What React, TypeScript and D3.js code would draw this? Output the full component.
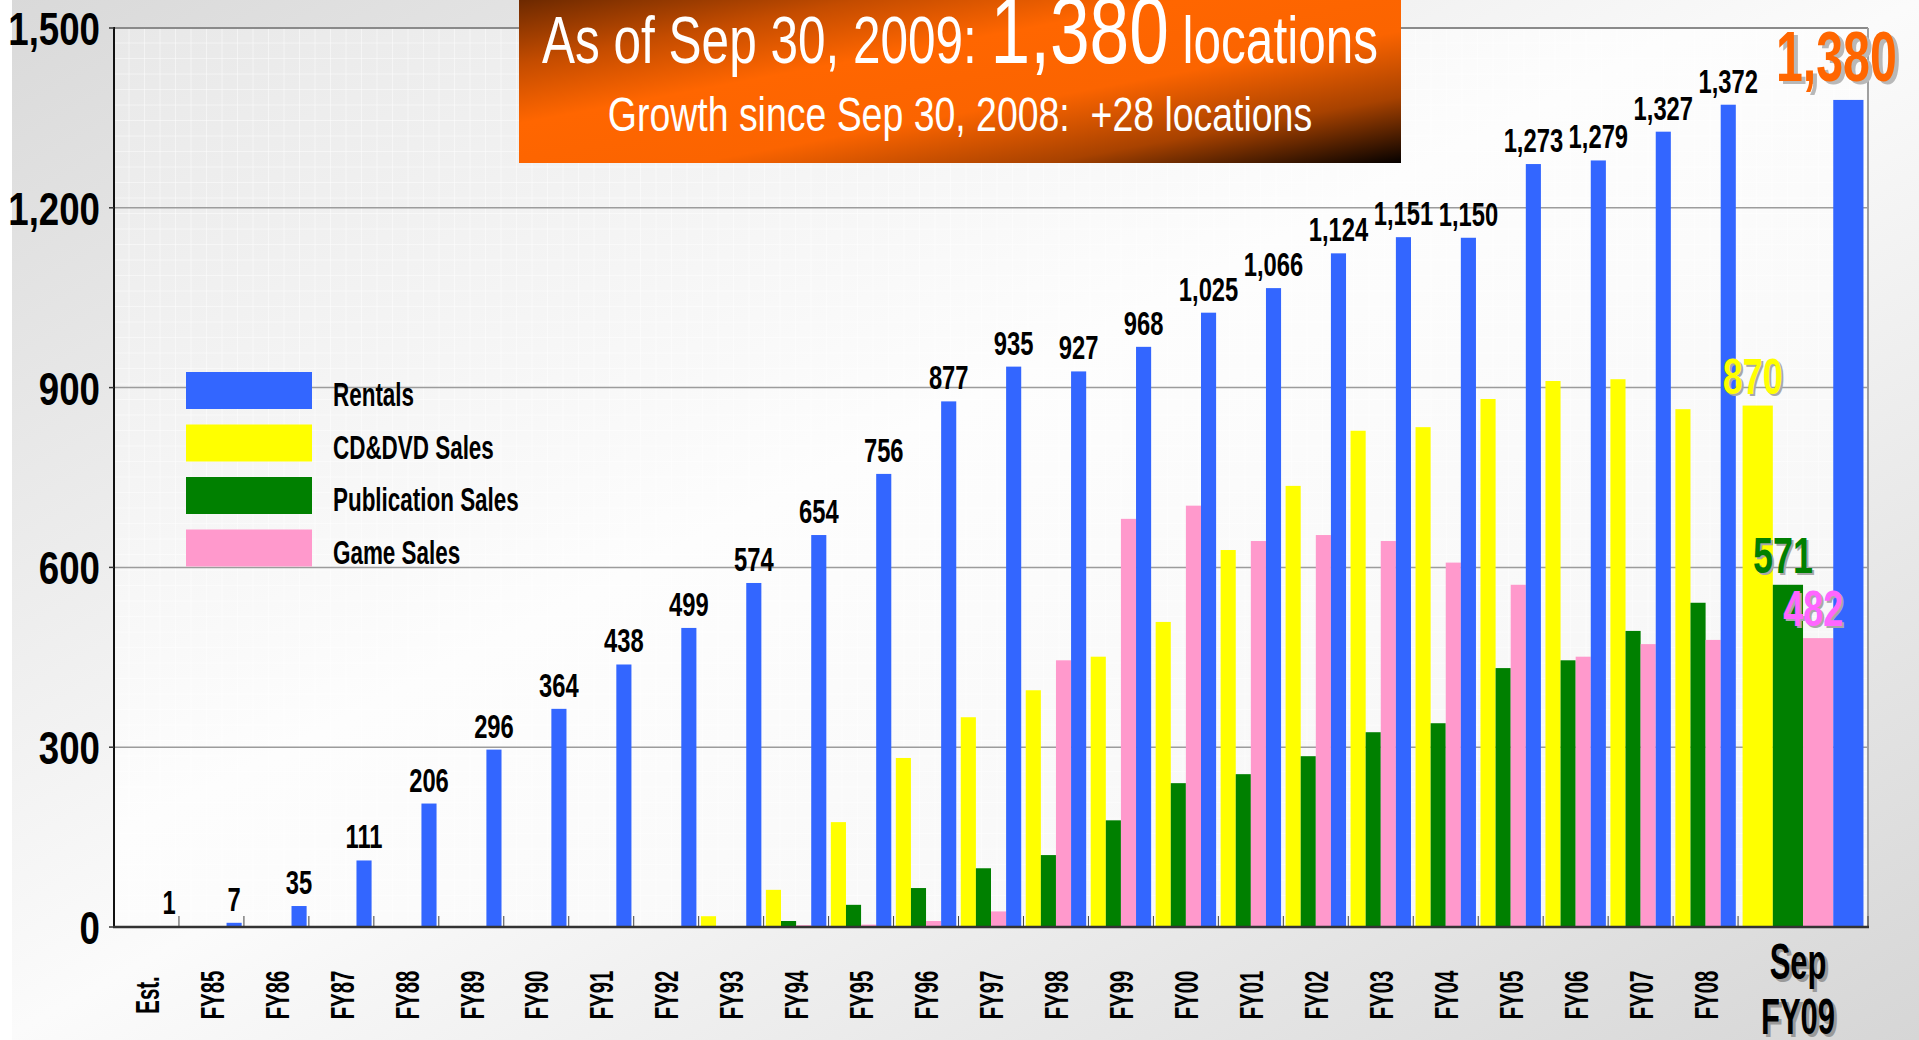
import * as d3 from "d3";

// Store count per fiscal year end, by business line
const categories = [
  "Est.", "FY85", "FY86", "FY87", "FY88", "FY89", "FY90", "FY91", "FY92",
  "FY93", "FY94", "FY95", "FY96", "FY97", "FY98", "FY99", "FY00", "FY01",
  "FY02", "FY03", "FY04", "FY05", "FY06", "FY07", "FY08", "Sep FY09",
];
const rentals = [
  1, 7, 35, 111, 206, 296, 364, 438, 499, 574, 654, 756, 877, 935, 927, 968,
  1025, 1066, 1124, 1151, 1150, 1273, 1279, 1327, 1372, 1380,
];
const cdDvdSales = [
  0, 0, 0, 0, 0, 0, 0, 0, 0, 18, 62, 175, 282, 350, 395, 451, 509, 629, 736,
  828, 834, 881, 911, 914, 864, 870,
];
const publicationSales = [
  0, 0, 0, 0, 0, 0, 0, 0, 0, 0, 10, 37, 65, 98, 120, 178, 240, 255, 285, 325,
  340, 432, 445, 494, 541, 571,
];
const gameSales = [
  0, 0, 0, 0, 0, 0, 0, 0, 0, 0, 3, 4, 10, 26, 445, 681, 703, 644, 654, 644,
  608, 571, 451, 472, 479, 482,
];
const yTicks = [0, 300, 600, 900, 1200, 1500];
const seriesNames = ["Rentals", "CD&DVD Sales", "Publication Sales", "Game Sales"];
const seriesColors = ["#3366ff", "#ffff00", "#008000", "#ff99cc"];
// colours of the value labels on the latest (Sep FY09) group
const latestLabelColors = ["#ff6600", "#ffff00", "#008000", "#ff66ff"];
// bars inside a group, left to right: CD&DVD, Publication, Game, Rentals
const barOrder = [1, 2, 3, 0];

const headline = "As of Sep 30, 2009: ";
const headlineTail = " locations";
const growthLine = "Growth since Sep 30, 2008:  +28 locations";

const W = 1919;
const H = 1040;
const left = 114;
const right = 1868;
const top = 28;
const bottom = 927;
const FONT = "'Liberation Sans', Arial, Helvetica, sans-serif";
const fmt = d3.format(",");

interface TxtProps {
  x: number;
  y: number;
  sx?: number;
  size: number;
  bold?: boolean;
  fill?: string;
  anchor?: string;
  rot?: number;
  dy?: string;
  shadow?: string;
  shadowOffset?: [number, number];
  children: any;
}

// condensed text: the original uses a narrow face, so squeeze horizontally
function Txt({
  x, y, sx = 1, size, bold = true, fill = "#000", anchor = "middle", rot = 0,
  dy, shadow, shadowOffset = [3, 3], children,
}: TxtProps) {
  const common = {
    fontFamily: FONT,
    fontSize: size,
    fontWeight: bold ? "bold" : "normal",
    textAnchor: anchor as any,
    dy,
    style: { whiteSpace: "pre" as const },
  };
  return (
    <g>
      {shadow && (
        <text
          {...common}
          fill={shadow}
          transform={`translate(${x + shadowOffset[0]},${y + shadowOffset[1]}) rotate(${rot}) scale(${sx},1)`}
        >
          {children}
        </text>
      )}
      <text {...common} fill={fill} transform={`translate(${x},${y}) rotate(${rot}) scale(${sx},1)`}>
        {children}
      </text>
    </g>
  );
}

export default function App() {
  const series = [rentals, cdDvdSales, publicationSales, gameSales];
  const last = categories.length - 1;

  const y = d3.scaleLinear().domain([0, 1500]).range([bottom, top]);

  // the latest group is twice as wide as the yearly ones
  const units = categories.map((_, i) => (i === last ? 2 : 1));
  const starts = [0, ...d3.cumsum(units)];
  const x = d3.scaleLinear().domain([0, d3.sum(units)]).range([left, right]);

  const groups = categories.map((c, i) =>
    d3
      .scaleBand<number>()
      .domain(barOrder)
      .range([x(starts[i]), x(starts[i] + units[i])])
      .paddingInner(0)
      .paddingOuter(0.15)
  );

  return (
    <svg
      width={W}
      height={H}
      style={{ position: "absolute", left: 0, top: 0, display: "block" }}
    >
      <defs>
        <linearGradient id="bg" x1="0" y1="0" x2="1" y2="1">
          <stop offset="0" stopColor="#d9d9d9" />
          <stop offset="0.5" stopColor="#fbfbfb" />
          <stop offset="1" stopColor="#d6d6d6" />
        </linearGradient>
        <linearGradient id="plotbg" x1="0" y1="0" x2="1" y2="1">
          <stop offset="0" stopColor="#e8e8e8" />
          <stop offset="0.45" stopColor="#fdfdfd" />
          <stop offset="1" stopColor="#f4f4f4" />
        </linearGradient>
        <pattern id="grid" width="15.5" height="15.5" patternUnits="userSpaceOnUse" x={left} y={top}>
          <path d="M15.5 0 V15.5 M0 15.5 H15.5" stroke="#ffffff" strokeWidth="1" fill="none" />
        </pattern>
        <linearGradient id="banner" x1="0" y1="0" x2="1" y2="1">
          <stop offset="0" stopColor="#6a2800" />
          <stop offset="0.2" stopColor="#c44c00" />
          <stop offset="0.38" stopColor="#ff6600" />
          <stop offset="0.6" stopColor="#fb6400" />
          <stop offset="0.8" stopColor="#a84200" />
          <stop offset="1" stopColor="#050100" />
        </linearGradient>
      </defs>

      {/* page background */}
      <rect x={0} y={0} width={W} height={H} fill="url(#bg)" />
      <rect x={0} y={0} width={12} height={H} fill="#ffffff" />

      {/* plot background */}
      <rect x={left} y={top} width={right - left} height={bottom - top} fill="url(#plotbg)" />
      <rect x={left} y={top} width={right - left} height={bottom - top} fill="url(#grid)" opacity={0.9} />

      {/* gridlines */}
      {yTicks.filter((t) => t > 0).map((t) => (
        <line key={t} x1={left} x2={right} y1={y(t)} y2={y(t)} stroke={t === 1500 ? "#8a8a8a" : "#9c9c9c"} strokeWidth={t === 1500 ? 2 : 1.5} />
      ))}
      <line x1={right} x2={right} y1={top} y2={bottom} stroke="#a0a0a0" strokeWidth={2} />

      {/* category ticks on the x axis */}
      {starts.map((s, i) => (
        <line key={i} x1={x(s)} x2={x(s)} y1={bottom - 11} y2={bottom} stroke="#444" strokeWidth={1} />
      ))}

      {/* bars */}
      {categories.map((c, i) =>
        barOrder.map((k) => {
          const v = series[k][i];
          if (!v) return null;
          return (
            <rect
              key={`${c}-${k}`}
              x={groups[i](k)}
              y={y(v)}
              width={groups[i].bandwidth()}
              height={y(0) - y(v)}
              fill={seriesColors[k]}
            />
          );
        })
      )}

      {/* axes */}
      <line x1={left} x2={left} y1={top - 1} y2={bottom} stroke="#111" strokeWidth={2} />
      <line x1={left - 1} x2={right + 1} y1={bottom} y2={bottom} stroke="#333" strokeWidth={2.5} />
      {yTicks.map((t) => (
        <line key={t} x1={left - 5} x2={left} y1={y(t)} y2={y(t)} stroke="#333" strokeWidth={1.5} />
      ))}

      {/* y tick labels */}
      {yTicks.map((t) => (
        <Txt key={t} x={100} y={y(t) + 17} sx={0.78} size={47} anchor="end">
          {fmt(t)}
        </Txt>
      ))}

      {/* x labels */}
      {categories.map((c, i) => {
        const cx = x(starts[i] + units[i] / 2);
        if (i === last) {
          const [a, b] = c.split(" ");
          return (
            <g key={c}>
              <Txt x={cx - 5} y={979} sx={0.62} size={50} shadow="#9a9a9a">{a}</Txt>
              <Txt x={cx - 5} y={1034} sx={0.62} size={50} shadow="#9a9a9a">{b}</Txt>
            </g>
          );
        }
        return (
          <Txt key={c} x={cx} y={995} sx={0.6} size={34} rot={-90} dy="0.36em">
            {c}
          </Txt>
        );
      })}

      {/* value labels for rentals */}
      {rentals.slice(0, last).map((v, i) => (
        <Txt
          key={i}
          x={(groups[i](0) as number) + groups[i].bandwidth() / 2}
          y={y(v) - 12}
          sx={0.72}
          size={33}
        >
          {fmt(v)}
        </Txt>
      ))}

      {/* value labels for the latest group */}
      {barOrder.map((k) => {
        const v = series[k][last];
        const cx = (groups[last](k) as number) + groups[last].bandwidth() / 2;
        const big = k === 0;
        return (
          <Txt
            key={k}
            x={cx - (big ? 12 : 5)}
            y={y(v) - (big ? 19 : 12)}
            sx={big ? 0.68 : 0.72}
            size={big ? 71 : 50}
            fill={latestLabelColors[k]}
            shadow={big ? "#b8b8b8" : "#a8a8a8"}
            shadowOffset={big ? [4, 3] : [2, 2]}
          >
            {fmt(v)}
          </Txt>
        );
      })}

      {/* legend */}
      {seriesNames.map((name, i) => (
        <g key={name}>
          <rect x={186} y={372 + i * 52.5} width={126} height={37} fill={seriesColors[i]} />
          <Txt x={333} y={372 + i * 52.5 + 34} sx={0.66} size={34} anchor="start">
            {name}
          </Txt>
        </g>
      ))}

      {/* headline banner */}
      <rect x={519} y={-2} width={882} height={165} fill="url(#banner)" />
      <text
        transform="translate(960,63) scale(0.75,1)"
        textAnchor="middle"
        fontFamily={FONT}
        fill="#ffffff"
        style={{ whiteSpace: "pre" }}
      >
        <tspan fontSize={66}>{headline}</tspan>
        <tspan fontSize={95}>{fmt(rentals[last])}</tspan>
        <tspan fontSize={66}>{headlineTail}</tspan>
      </text>
      <Txt x={960} y={131} sx={0.78} size={48} bold={false} fill="#ffffff">
        {growthLine}
      </Txt>
    </svg>
  );
}
